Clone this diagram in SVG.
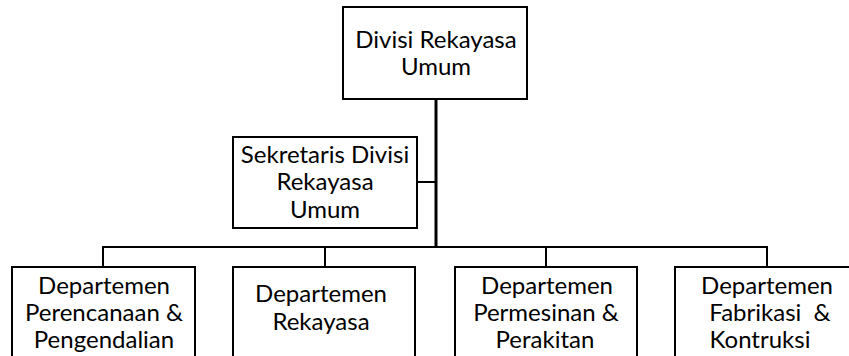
<svg xmlns="http://www.w3.org/2000/svg" width="849" height="356" viewBox="0 0 849 356">
<style>
.box{fill:#fff;stroke:#000;stroke-width:2}
.t{font-family:Lato,"Liberation Sans",sans-serif;font-size:24px;fill:#000;text-anchor:middle}
.c{stroke:#000;fill:none;stroke-width:2}
.m{stroke:#000;fill:none;stroke-width:3}
</style>
<rect width="849" height="356" fill="#fff"/>
<g id="connectors">
<line class="m" x1="436" y1="99" x2="436" y2="248"/>
<line class="c" x1="417" y1="182" x2="436" y2="182"/>
<polyline class="c" points="103,267 103,247 767,247 767,267"/>
<line class="c" x1="325" y1="247" x2="325" y2="267"/>
<line class="c" x1="546" y1="247" x2="546" y2="267"/>
</g>
<g id="divisi">
<rect class="box" x="343" y="7" width="184" height="92"/>
<text class="t" x="436" y="48">Divisi Rekayasa</text>
<text class="t" x="436" y="75">Umum</text>
</g>
<g id="sekretaris">
<rect class="box" x="233" y="137" width="184" height="91"/>
<text class="t" x="325" y="163">Sekretaris Divisi</text>
<text class="t" x="325" y="190">Rekayasa</text>
<text class="t" x="325" y="218">Umum</text>
</g>
<g id="dept1">
<rect class="box" x="12" y="267" width="183" height="100"/>
<text class="t" x="104" y="294">Departemen</text>
<text class="t" x="104" y="321">Perencanaan &amp;</text>
<text class="t" x="104" y="348">Pengendalian</text>
</g>
<g id="dept2">
<rect class="box" x="233" y="267" width="182" height="100"/>
<text class="t" x="321" y="302">Departemen</text>
<text class="t" x="321" y="330">Rekayasa</text>
</g>
<g id="dept3">
<rect class="box" x="455" y="267" width="182" height="100"/>
<text class="t" x="547" y="294">Departemen</text>
<text class="t" x="546" y="321">Permesinan &amp;</text>
<text class="t" x="545" y="348">Perakitan</text>
</g>
<g id="dept4">
<rect class="box" x="675" y="267" width="184" height="100"/>
<text class="t" x="767" y="294">Departemen</text>
<text class="t" x="770" y="321" xml:space="preserve">Fabrikasi  &amp;</text>
<text class="t" x="760" y="348">Kontruksi</text>
</g>
</svg>
